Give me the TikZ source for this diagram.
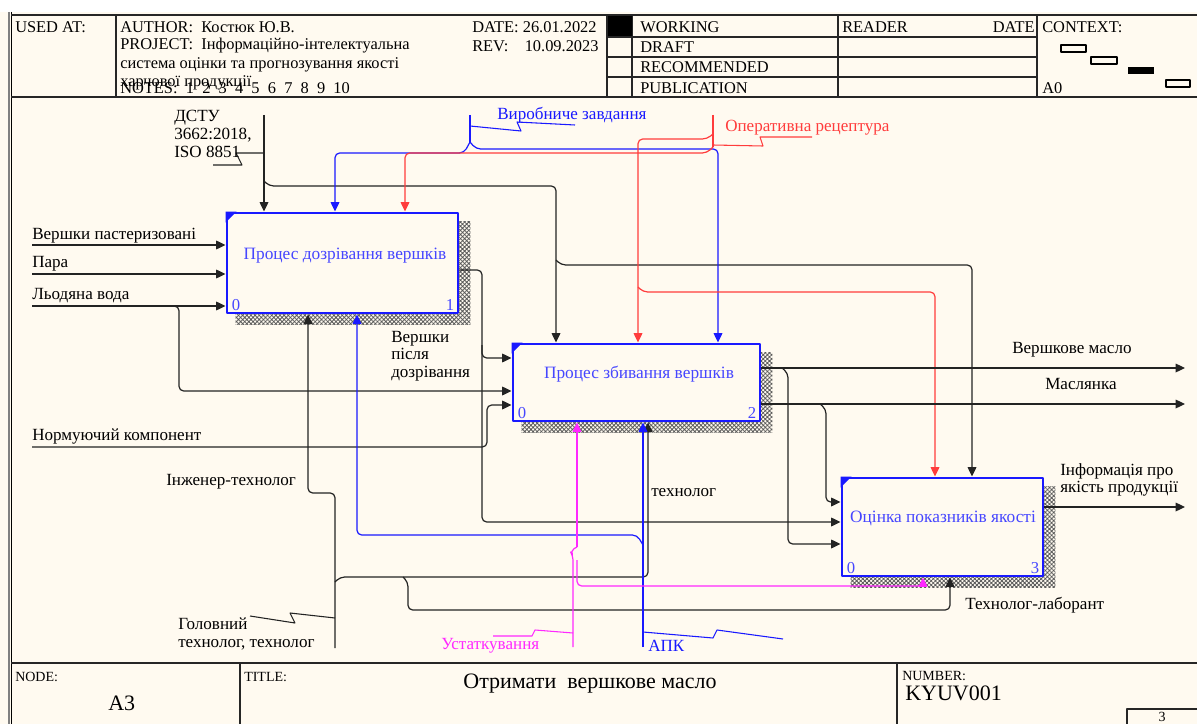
\documentclass[tikz,border=0pt]{standalone}
\usepackage{fontspec}
\setmainfont{Liberation Serif}
\usetikzlibrary{arrows.meta,patterns.meta,backgrounds}
\definecolor{cream}{RGB}{255,250,240}
\definecolor{idefblue}{RGB}{25,25,255}
\definecolor{titleblue}{RGB}{70,70,255}
\definecolor{idefred}{RGB}{255,60,60}
\definecolor{idefmag}{RGB}{255,40,255}
\definecolor{lineblack}{RGB}{35,35,35}
\begin{document}
\begin{tikzpicture}[x=0.75pt,y=-0.75pt,line join=round,
  txt/.style={font=\fontsize{12.8}{13.2}\selectfont,anchor=west,align=left,inner sep=0pt},
  hdr/.style={font=\fontsize{12.3}{13}\selectfont,anchor=west,inner sep=0pt},
  ftr/.style={font=\fontsize{10.5}{12}\selectfont,anchor=west,inner sep=0pt},
  big/.style={font=\fontsize{16.5}{17}\selectfont,anchor=west,inner sep=0pt},
  box/.style={draw=idefblue,line width=2.2pt,fill=cream,inner sep=0pt},
  ttl/.style={font=\fontsize{13}{14}\selectfont,text=titleblue,inner sep=0pt},
  num/.style={font=\fontsize{12.5}{12.5}\selectfont,text=titleblue,inner sep=0pt},
  hatchshadow/.style={pattern={Hatch[angle=45,distance=2.2pt,line width=0.6pt]},pattern color=black!65},
  hline/.style={draw=black!85,line width=1pt},
  flow/.style={draw=lineblack,line width=0.9pt,rounded corners=3.5pt},
  arr/.style={flow,-{Triangle[length=7pt,width=6.5pt]}},
  tie/.style={draw=lineblack,line width=0.8pt},
  bflow/.style={flow,draw=idefblue},
  barr/.style={arr,draw=idefblue},
  btie/.style={tie,draw=idefblue},
  rflow/.style={flow,draw=idefred},
  rarr/.style={arr,draw=idefred},
  rtie/.style={tie,draw=idefred},
  mflow/.style={flow,draw=idefmag},
  marr/.style={arr,draw=idefmag},
  mtie/.style={tie,draw=idefmag}]

\useasboundingbox (0,0) rectangle (1197,724);

% activity boxes
\node[box,minimum width=173.25pt,minimum height=75pt] (b1) at (342.5,263) {};
\node[box,minimum width=185.25pt,minimum height=57.75pt] (b2) at (636.5,382.5) {};
\node[box,minimum width=150.75pt,minimum height=73.5pt] (b3) at (942.5,527) {};

\begin{scope}[on background layer]
  \fill[white] (0,0) rectangle (1197,724);
  \fill[cream] (0,12) rectangle (1197,724);
  \foreach \b in {b1,b2,b3}
    \fill[hatchshadow] ([shift={(10,10)}]\b.north west) rectangle ([shift={(11,10)}]\b.south east);
\end{scope}

\foreach \b in {b1,b2,b3}
  \fill[idefblue] (\b.north west) -- ++(11,0) -- ++(-11,11) -- cycle;

\node[ttl] (t1) at (345,256) {Процес дозрівання вершків};
\node[ttl] (t2) at (639,374) {Процес збивання вершків};
\node[ttl] (t3) at (943,518) {Оцінка показників якості};
\node[num,anchor=south west] (n1a) at ([shift={(6,-4)}]b1.south west) {0};
\node[num,anchor=south east] (n1b) at ([shift={(-5,-4)}]b1.south east) {1};
\node[num,anchor=south west] (n2a) at ([shift={(6,-4)}]b2.south west) {0};
\node[num,anchor=south east] (n2b) at ([shift={(-5,-4)}]b2.south east) {2};
\node[num,anchor=south west] (n3a) at ([shift={(6,-4)}]b3.south west) {0};
\node[num,anchor=south east] (n3b) at ([shift={(-5,-4)}]b3.south east) {3};

% outer frame
\draw[gray,line width=1.8pt] (9,12) -- (9,724);
\draw[black,line width=0.8pt] (11.5,12) -- (11.5,724);
\draw[hline] (11,15) -- (1197,15);
\draw[hline] (11,97) -- (1197,97);
\draw[hline] (11,663) -- (1197,663);
\draw[hline] (116,15) -- (116,97);
\draw[hline] (607,15) -- (607,97);
\draw[hline] (632,15) -- (632,97);
\draw[hline] (838,15) -- (838,97);
\draw[hline] (1037,15) -- (1037,97);
\foreach \yy in {37,57,77} \draw[hline] (607,\yy) -- (1037,\yy);
\fill[black] (608,16) rectangle (632,36);
\draw[hline] (240,663) -- (240,724);
\draw[hline] (897,663) -- (897,724);
\draw[hline] (1127,724) -- (1127,709) -- (1197,709);

% context thumbnail
\draw[black,line width=0.8pt] (1061,45) rectangle (1086,52);
\draw[black,line width=0.8pt] (1091,57) rectangle (1117,64);
\fill[black] (1128,67) rectangle (1154,74);
\draw[black,line width=0.8pt] (1166,80) rectangle (1190,87);

% header texts
\node[hdr] (usedat) at (15,27) {USED AT:};
\node[hdr] (author) at (120,27) {AUTHOR:\ \ Костюк Ю.В.};
\node[hdr] (project) at (120,46) {PROJECT:\ \ Інформаційно-інтелектуальна};
\node[hdr] (project2) at (120,65) {система оцінки та прогнозування якості};
\node[hdr] (project3) at (120,83) {харчової продукції};
\node[hdr] (notes) at (120,88) {NOTES:\ \ 1\ \ 2\ \ 3\ \ 4\ \ 5\ \ 6\ \ 7\ \ 8\ \ 9\ \ 10};
\node[hdr] (date) at (472,27) {DATE: 26.01.2022};
\node[hdr] (rev) at (472,46) {REV:\ \ \ \ 10.09.2023};
\node[hdr] (working) at (640,27) {WORKING};
\node[hdr] (draft) at (640,47) {DRAFT};
\node[hdr] (recom) at (640,67) {RECOMMENDED};
\node[hdr] (public) at (640,88) {PUBLICATION};
\node[hdr] (reader) at (842,27) {READER};
\node[hdr,anchor=east] (rdate) at (1035,27) {DATE};
\node[hdr] (context) at (1042,27) {CONTEXT:};
\node[hdr] (azero) at (1042,88) {A0};

% footer texts
\node[ftr] (nodelbl) at (15,677) {NODE:};
\node[big] (nodeval) at (108,703) {A3};
\node[ftr] (titlelbl) at (244,677) {TITLE:};
\node[big,anchor=center] (titleval) at (590,684) {Отримати\ \ вершкове масло};
\node[ftr] (numlbl) at (902,676) {NUMBER:};
\node[big] (numval) at (905,693) {KYUV001};
\node[ftr,anchor=center] (pagenum) at (1162,717) {3};

% free ends of the boundary arrows
\coordinate (srcVP) at (32,245);
\coordinate (srcPara) at (32,274);
\coordinate (srcLV) at (32,306);
\coordinate (srcNK) at (32,447);
\coordinate (srcDSTU) at (264,115);
\coordinate (srcVZ) at (470,115);
\coordinate (srcOR) at (713,115);
\coordinate (srcGT) at (335,648);
\coordinate (srcUST) at (573,647);
\coordinate (srcAPK) at (643,647);
\coordinate (dstVM) at (1185,368);
\coordinate (dstMS) at (1185,404);
\coordinate (dstInf) at (1185,507);

% inputs
\draw[arr] (srcVP) -- (srcVP -| b1.west);
\draw[arr] (srcPara) -- (srcPara -| b1.west);
\draw[arr] (srcLV) -- (srcLV -| b1.west);
\draw[arr] (172,306) -| (179,391) -- (b2.west |- 0,391);
\draw[arr] (srcNK) -| (487,405) -- (b2.west |- 0,405);
\draw[arr] (b1.east |- 0,270) -| (482,358) -- (b2.west |- 0,358);
\draw[arr] (482,345) |- (b3.west |- 0,522);

% controls
\draw[arr] (srcDSTU) -- (srcDSTU |- b1.north);
\draw[tie] (srcDSTU |- 0,153) -- (236,153) -- (242,165) -- (213,165);
\draw[arr] (264,181) -- (269,186) -| (b2.north -| 556,0);
\draw[arr] (556,260) -- (561,265) -| (b3.north -| 972,0);

\draw[bflow] (srcVZ) -- (470,142);
\draw[btie] (470,126) -- (521,131) -- (517,122) -- (575,125);
\draw[barr] (470,142) -- (464,153) -| (b1.north -| 335,0);
\draw[barr] (470,142) -- (476,149) -| (b2.north -| 718,0);

\draw[rflow] (srcOR) -- (713,147);
\draw[rtie] (713,145) -- (763,146) -- (760,137) -- (812,137);
\draw[rarr] (713,134) -- (707,139) -| (b2.north -| 638,0);
\draw[rarr] (713,147) -- (707,153) -| (b1.north -| 405,0);
\draw[rarr] (638,287) -- (643,292) -| (b3.north -| 935,0);

% mechanisms
\draw[arr] (srcGT) |- (308,493) -- (b1.south -| 308,0);
\draw[tie] (335,618) -- (290,613) -- (295,623) -- (250,616);
\draw[arr] (335,582) -- (340,577) -| (b2.south -| 648,0);
\draw[arr] (403,577) -- (408,582) |- (950,610) -- (b3.south -| 950,0);

\draw[barr] (srcAPK) -- (srcAPK |- b2.south);
\draw[barr] (643,545) -- (637,535) -| (b1.south -| 357,0);
\draw[btie] (643,632) -- (713,638) -- (717,630) -- (783,639);

\draw[mflow] (srcUST) -- (573,556) -- (570,551) -- (577,547);
\draw[marr] (577,547) -- (b2.south -| 577,0);
\draw[marr] (577,560) |- (923,586) -- (b3.south -| 923,0);
\draw[mtie] (573,633) -- (535,630) -- (532,636) -- (493,636);

% outputs
\draw[arr] (b2.east |- 0,368) -- (dstVM);
\draw[arr] (782,368) -- (788,373) |- (b3.west |- 0,544);
\draw[arr] (b2.east |- 0,404) -- (dstMS);
\draw[arr] (820,404) -- (826,409) |- (b3.west |- 0,502);
\draw[arr] (b3.east |- 0,507) -- (dstInf);

% arrow labels
\node[txt] (lVP) at (32,236) {Вершки пастеризовані};
\node[txt] (lPara) at (32,264) {Пара};
\node[txt] (lLV) at (32,296) {Льодяна вода};
\node[txt] (lNK) at (32,436) {Нормуючий компонент};
\node[txt] (lDSTU) at (174,134) {ДСТУ\\3662:2018,\\ISO 8851};
\node[txt,text=idefblue] (lVZ) at (497,115) {Виробниче завдання};
\node[txt,text=idefred] (lOR) at (725,128) {Оперативна рецептура};
\node[txt] (lVPD) at (391,356) {Вершки\\після\\дозрівання};
\node[txt] (lIT) at (166,482) {Інженер-технолог};
\node[txt] (lGT) at (178,634) {Головний\\технолог, технолог};
\node[txt,text=idefmag] (lUST) at (441,646) {Устаткування};
\node[txt,text=idefblue] (lAPK) at (648,646) {АПК};
\node[txt] (lTech) at (651,493) {технолог};
\node[txt] (lTL) at (965,605) {Технолог-лаборант};
\node[txt] (lVM) at (1012,350) {Вершкове масло};
\node[txt] (lMS) at (1045,384) {Маслянка};
\node[txt] (lInf) at (1060,480) {Інформація про\\якість продукції};
\end{tikzpicture}
\end{document}
